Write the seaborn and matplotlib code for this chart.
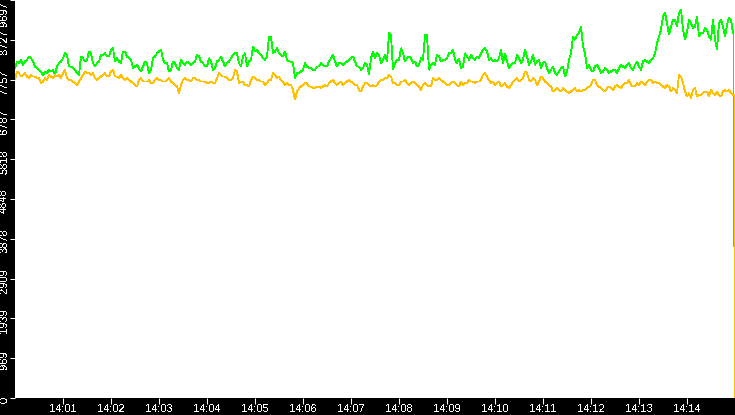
import numpy as np
import pandas as pd
import matplotlib
matplotlib.use("Agg")
import matplotlib.pyplot as plt
from matplotlib.transforms import ScaledTranslation
import seaborn as sns

# ---- data ----
# samples on the 5-second grid (14:00:00, 14:00:05, ...)
green_values = [
    8036, 8158, 8117, 8239, 8280, 8076, 7995, 7873, 7914, 7954, 7873, 8158, 8280, 8361, 8076,
    7995, 7873, 8280, 8239, 8402, 8076, 8198, 8361, 8320, 8483, 8198, 8198, 8442, 8320, 8239,
    8076, 8036, 8076, 8158, 7995, 8320, 8442, 8239, 8158, 7995, 8158, 7995, 8158, 8198, 8117,
    8198, 8320, 8158, 8076, 8198, 8036, 8239, 8198, 8158, 8280, 8402, 8158, 8320, 8076, 8239,
    8442, 8402, 8280, 8320, 8800, 8442, 8402, 8320, 8239, 8198, 7792, 7914, 7995, 8076, 8036,
    7995, 8076, 8117, 8076, 8280, 8198, 8158, 8117, 8198, 8280, 8198, 8076, 8036, 8117, 8280,
    8280, 8361, 8239, 8198, 8849, 8158, 8239, 8402, 8280, 8280, 8198, 8117, 8239, 8849, 8117,
    8117, 8320, 8239, 8280, 8402, 8239, 8280, 8076, 8320, 8361, 8239, 8280, 8483, 8442, 8280,
    8239, 8280, 8158, 8198, 8117, 8158, 8280, 8239, 8320, 8198, 8117, 8239, 8158, 8036, 7995,
    7914, 7954, 8076, 7954, 8402, 8727, 8890, 8564, 8036, 7995, 8076, 8036, 7954, 7995, 7954,
    7995, 8036, 8076, 8117, 8036, 8117, 8076, 8198, 8198, 8239, 8402, 8808, 9296, 9134, 9052,
    9215, 9378, 8971, 8930, 9134, 9052, 8808, 8890, 8971, 8727, 8727, 9134, 9052, 9093, 9215,
]
# samples half-way between (14:00:02.5, 14:00:07.5, ...)
green_mid_values = [
    8198, 8239, 8198, 8320, 8198, 8036, 7954, 7954, 7995, 7995, 8076, 8198, 8402, 8076, 8036,
    7914, 8320, 8198, 8442, 8158, 8158, 8361, 8402, 8320, 8524, 8280, 8158, 8442, 8280, 8036,
    8117, 7954, 8198, 7914, 8280, 8402, 8483, 8158, 7954, 8198, 8036, 8239, 8117, 8158, 8158,
    8361, 8198, 8076, 8280, 7995, 8198, 8320, 8076, 8198, 8361, 8402, 8076, 8402, 8198, 8564,
    8483, 8361, 8239, 8808, 8402, 8524, 8361, 8442, 8198, 8158, 7914, 7954, 8158, 8036, 7995,
    8076, 8158, 8076, 8198, 8361, 8076, 8158, 8158, 8239, 8320, 8076, 7995, 8158, 7873, 8442,
    8402, 8158, 8361, 8890, 7995, 8239, 8524, 8198, 8320, 8158, 8076, 8280, 8849, 7995, 8158,
    8361, 8198, 8239, 8402, 8483, 8158, 8036, 8402, 8239, 8280, 8320, 8402, 8524, 8239, 8198,
    8198, 8483, 8402, 8036, 8158, 8361, 8158, 8483, 8117, 8361, 8198, 8036, 8198, 7914, 8076,
    7873, 8036, 7832, 8239, 8808, 8849, 9052, 8402, 8117, 7954, 8117, 7914, 8036, 7914, 7995,
    7914, 8117, 8036, 8158, 7995, 8198, 7995, 8239, 8158, 8280, 8646, 8971, 9378, 8849, 9215,
    9052, 9459, 8727, 9215, 9012, 9296, 8890, 9012, 8808, 9215, 8483, 9215, 8808, 9256, 8890,
]
orange_values = [
    7751, 7914, 7873, 7832, 7873, 7832, 7792, 7710, 7751, 7832, 7873, 7873, 7914, 7792, 7751,
    7670, 7710, 7873, 7914, 7873, 7792, 7792, 7873, 7832, 7954, 7832, 7792, 7792, 7792, 7710,
    7629, 7751, 7710, 7710, 7670, 7751, 7751, 7710, 7751, 7710, 7629, 7426, 7751, 7751, 7710,
    7792, 7751, 7710, 7670, 7710, 7670, 7914, 7832, 7792, 7751, 7995, 7670, 7710, 7629, 7751,
    7792, 7751, 7710, 7670, 7751, 7873, 7832, 7710, 7670, 7629, 7263, 7548, 7629, 7670, 7589,
    7548, 7589, 7589, 7589, 7710, 7670, 7670, 7629, 7710, 7710, 7629, 7507, 7589, 7670, 7589,
    7589, 7710, 7751, 7792, 7832, 7670, 7629, 7710, 7670, 7670, 7670, 7589, 7629, 7629, 7589,
    7751, 7792, 7710, 7629, 7670, 7670, 7589, 7629, 7670, 7710, 7670, 7710, 7873, 7832, 7670,
    7629, 7710, 7629, 7589, 7629, 7751, 7710, 7792, 7914, 7710, 7751, 7710, 7792, 7670, 7589,
    7507, 7507, 7548, 7467, 7467, 7548, 7507, 7507, 7548, 7629, 7751, 7589, 7507, 7548, 7548,
    7589, 7589, 7629, 7670, 7629, 7589, 7629, 7670, 7710, 7751, 7710, 7670, 7589, 7629, 7467,
    7507, 7873, 7670, 7345, 7304, 7548, 7385, 7426, 7467, 7507, 7385, 7385, 7467, 7467, 7426,
]
orange_mid_values = [
    7954, 7832, 7914, 7792, 7832, 7792, 7670, 7792, 7873, 7792, 7832, 7792, 7995, 7751, 7710,
    7629, 7792, 7954, 7914, 7914, 7751, 7832, 7914, 7832, 7995, 7832, 7873, 7751, 7751, 7670,
    7589, 7792, 7710, 7751, 7670, 7792, 7751, 7710, 7792, 7670, 7589, 7629, 7792, 7751, 7792,
    7751, 7710, 7710, 7670, 7670, 7792, 7873, 7832, 7751, 7792, 7954, 7710, 7629, 7589, 7832,
    7751, 7710, 7629, 7751, 7914, 7792, 7751, 7629, 7629, 7507, 7467, 7589, 7670, 7589, 7548,
    7589, 7548, 7629, 7670, 7751, 7629, 7710, 7670, 7751, 7670, 7629, 7467, 7670, 7629, 7629,
    7629, 7751, 7792, 7873, 7670, 7629, 7710, 7751, 7629, 7710, 7629, 7507, 7670, 7589, 7792,
    7751, 7751, 7670, 7629, 7710, 7629, 7710, 7670, 7751, 7710, 7710, 7751, 7914, 7751, 7710,
    7670, 7589, 7670, 7548, 7710, 7792, 7751, 7954, 7751, 7792, 7629, 7832, 7710, 7629, 7467,
    7548, 7467, 7507, 7426, 7507, 7467, 7467, 7507, 7589, 7751, 7629, 7548, 7467, 7589, 7507,
    7629, 7548, 7670, 7751, 7589, 7670, 7710, 7629, 7751, 7670, 7670, 7629, 7548, 7589, 7548,
    7426, 7832, 7467, 7426, 7507, 7345, 7385, 7467, 7345, 7426, 7467, 7345, 7507, 7507, 7385,
]
# final readings at the right edge (the drop)
green_tail_seconds = [898.1, 898.1]
green_tail = [8971, 3689]
orange_tail_seconds = [899.3, 899.3]
orange_tail = [7385, 0]

ytick_values = [i * 969.7 for i in range(11)]
ytick_labels = ["0", "969", "1939", "2909", "3878", "4848", "5818", "6787", "7757", "8727", "9697"]
xtick_labels = ["14:01", "14:02", "14:03", "14:04", "14:05", "14:06", "14:07",
                "14:08", "14:09", "14:10", "14:11", "14:12", "14:13", "14:14"]

# ---- build table ----
start = pd.Timestamp("2024-01-01 14:00:00")


def series_frame(name, grid_vals, mid_vals, tail_secs, tail_vals):
    secs, vals = [], []
    for i, (a, b) in enumerate(zip(grid_vals, mid_vals)):
        secs += [5 * i, 5 * i + 2.5]
        vals += [a, b]
    secs += tail_secs
    vals += tail_vals
    return pd.DataFrame({"time": [start + pd.Timedelta(seconds=s) for s in secs],
                         "value": vals, "series": name})


df = pd.concat([
    series_frame("a", green_values, green_mid_values, green_tail_seconds, green_tail),
    series_frame("b", orange_values, orange_mid_values, orange_tail_seconds, orange_tail),
], ignore_index=True)

plt.rcParams["text.antialiased"] = False
plt.rcParams["font.family"] = ["Liberation Sans", "DejaVu Sans"]

W, H = 735, 415
fig = plt.figure(figsize=(W / 100, H / 100), dpi=100, facecolor="black")
ax = fig.add_axes([15 / W, 17 / H, 720 / W, 398 / H])
ax.set_facecolor("white")

sns.lineplot(data=df, x="time", y="value", hue="series", hue_order=["a", "b"],
             palette={"a": "#00FF00", "b": "#FFC000"}, estimator=None, errorbar=None,
             legend=False, linewidth=0.6, sort=False, ax=ax)
for ln in ax.get_lines():
    ln.set_antialiased(False)
    ln.set_solid_joinstyle("miter")
    ln.set_solid_capstyle("butt")

ax.set_xlim(start, start + pd.Timedelta(minutes=15))
ax.set_ylim(0, 9697)
for s in ax.spines.values():
    s.set_visible(False)
ax.set_xlabel("")
ax.set_ylabel("")

xt = [start + pd.Timedelta(minutes=i + 1) for i in range(len(xtick_labels))]
ax.set_xticks(xt)
ax.set_xticklabels(xtick_labels)
ax.set_yticks(ytick_values)
ax.set_yticklabels(ytick_labels)

ax.tick_params(axis="x", colors="white", labelsize=8, length=4.3, width=0.75, pad=0.3)
ax.tick_params(axis="y", colors="white", labelsize=8, length=3.6, width=0.75, pad=0.6)
down = ScaledTranslation(0, -2 / 100, fig.dpi_scale_trans)
labels = ax.get_yticklabels()
for i, lab in enumerate(labels):
    lab.set_rotation(90)
    lab.set_ha("right")
    if i == len(labels) - 1:
        lab.set_va("top")
        lab.set_transform(lab.get_transform() + ScaledTranslation(0, -1 / 100, fig.dpi_scale_trans))
    else:
        lab.set_va("center")
        lab.set_transform(lab.get_transform() + down)

fig.savefig("out.png", dpi=100, facecolor="black")
